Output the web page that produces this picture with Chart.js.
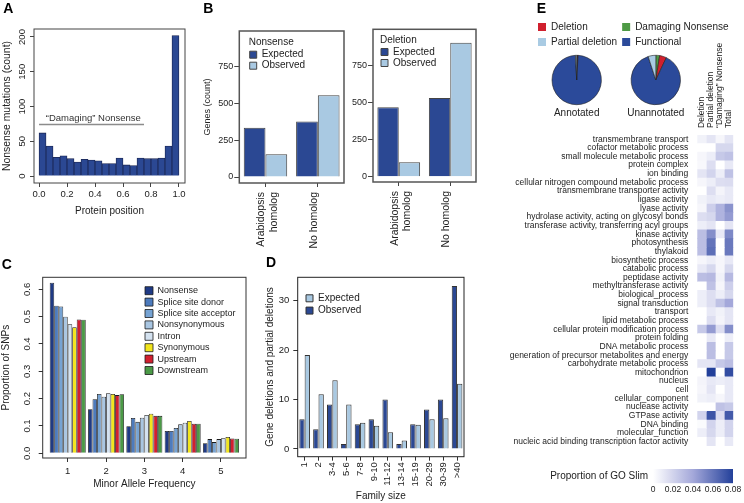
<!DOCTYPE html>
<html><head><meta charset="utf-8">
<script src="https://cdn.jsdelivr.net/npm/chart.js@4.4.1/dist/chart.umd.min.js"></script>
<style>
html,body{margin:0;padding:0;background:#fff;}
body{width:744px;height:503px;position:relative;overflow:hidden;}
canvas{position:absolute;}
</style></head><body>
<script>
// ================= DATA =================
// Panel A: histogram of nonsense mutation positions
const aBinMid = [0.025,0.075,0.125,0.175,0.225,0.275,0.325,0.375,0.425,0.475,0.525,0.575,0.625,0.675,0.725,0.775,0.825,0.875,0.925,0.975];
const aCounts = [62,43,27,29,25,20,24,23,22,18,18,26,16,15,26,25,25,26,43,202];
const aXTicks = [0,0.2,0.4,0.6,0.8,1.0];
const aYTicks = [0,50,100,150,200];
const aDamagingSpan = [0,0.75];
const aDamagingLevel = 74;

// Panel B
const bGroups = [['Arabidopsis','homolog'],'No homolog'];
const bNonsenseExpected = [333,376];
const bNonsenseObserved = [154,553];
const bDeletionExpected = [470,532];
const bDeletionObserved = [97,905];
const bYTicks = [0,250,500,750];

// Panel C
const cMaf = [1,2,3,4,5];
const cSeriesNames = ['Nonsense','Splice site donor','Splice site acceptor','Nonsynonymous','Intron','Synonymous','Upstream','Downstream'];
const cNonsense       = [0.624,0.161,0.099,0.082,0.037];
const cSpliceDonor    = [0.540,0.198,0.129,0.082,0.052];
const cSpliceAcceptor = [0.537,0.217,0.115,0.093,0.041];
const cNonsynonymous  = [0.500,0.207,0.130,0.106,0.052];
const cIntron         = [0.472,0.220,0.140,0.112,0.055];
const cSynonymous     = [0.461,0.217,0.145,0.118,0.060];
const cUpstream       = [0.490,0.213,0.137,0.108,0.054];
const cDownstream     = [0.489,0.216,0.137,0.108,0.053];
const cYTicks = [0,0.1,0.2,0.3,0.4,0.5,0.6];

// Panel D
const dFamily = ['1','2','3-4','5-6','7-8','9-10','11-12','13-14','15-19','20-29','30-39','>40'];
const dObserved = [6,4,9,1,5,6,10,1,5,8,10,33];
const dExpected = [19,11.1,13.9,9,5.3,4.7,3.4,1.7,4.9,6,6.2,13.2];
const dYTicks = [0,10,20,30];

// Panel E: pies
const pieLabels = ['Damaging Nonsense','Deletion','Functional','Partial deletion'];
const pieAnnotated = [0.5,0.4,98.3,0.8];
const pieUnannotated = [2.5,4.5,88,5];
const eLegendOrder = ['Deletion','Partial deletion','Damaging Nonsense','Functional'];

// Panel E: heatmap (proportion of GO Slim)
const goTerms = ['transmembrane transport','cofactor metabolic process','small molecule metabolic process','protein complex','ion binding','cellular nitrogen compound metabolic process','transmembrane transporter activity','ligase activity','lyase activity','hydrolase activity, acting on glycosyl bonds','transferase activity, transferring acyl groups','kinase activity','photosynthesis','thylakoid','biosynthetic process','catabolic process','peptidase activity','methyltransferase activity','biological_process','signal transduction','transport','lipid metabolic process','cellular protein modification process','protein folding','DNA metabolic process','generation of precursor metabolites and energy','carbohydrate metabolic process','mitochondrion','nucleus','cell','cellular_component','nuclease activity','GTPase activity','DNA binding','molecular_function','nucleic acid binding transcription factor activity'];
const goColumns = ['Deletion','Partial deletion','\u201cDamaging\u201d Nonsense','Total'];
const goDeletion = [0.006,0,0.004,0.003,0.012,0.004,0,0.006,0.004,0.015,0.008,0.030,0.030,0.030,0.004,0.010,0.030,0,0.008,0.008,0,0,0.025,0,0,0,0.012,0,0.005,0.004,0.006,0,0.020,0.002,0.008,0];
const goPartial  = [0.012,0,0.008,0.015,0.020,0.008,0.015,0.010,0.022,0.018,0.012,0.050,0.060,0.062,0.008,0.018,0.032,0.028,0.015,0.015,0.010,0.015,0.045,0.010,0.030,0.030,0.012,0.080,0.010,0.012,0.008,0,0.072,0.020,0.018,0.012];
const goDamaging = [0.004,0.018,0.025,0,0.008,0.015,0.005,0.008,0.035,0.035,0,0.010,0,0,0.004,0.004,0.006,0.004,0.008,0.028,0.006,0.005,0.015,0,0,0,0.025,0,0.008,0,0.004,0.028,0.015,0.008,0.008,0];
const goTotal    = [0.012,0.018,0.028,0.010,0.028,0.016,0.010,0.010,0.048,0.045,0.012,0.052,0.058,0.058,0.010,0.018,0.032,0.022,0.018,0.040,0.012,0.012,0.050,0.008,0.025,0.025,0.030,0.075,0.010,0.010,0.010,0.025,0.070,0.020,0.020,0.010];
const goScaleMax = 0.08;
const goScaleTicks = [0,0.02,0.04,0.06,0.08];

// ================= STYLE =================
const FONT = "'Liberation Sans', Arial, Helvetica, sans-serif";
Chart.defaults.font.family = FONT;
Chart.defaults.color = '#222';
Chart.defaults.animation = false;
Chart.defaults.responsive = false;
Chart.defaults.maintainAspectRatio = false;
Chart.defaults.events = [];
Chart.defaults.plugins.legend.display = false;
Chart.defaults.plugins.tooltip.enabled = false;

const DARK = '#2b4893';
const LIGHT = '#a9c9e2';
const cColors = ['#1f3a85','#4d7bbd','#76a3d3','#a9c6e2','#d4e2f0','#f2e51d','#d21f2f','#4b9a47'];
const pieColor = {'Deletion':'#d0202e','Damaging Nonsense':'#4e9a45','Partial deletion':'#a9cbe3','Functional':'#2b4a9a'};

function canvasAt(r){
  const c=document.createElement('canvas');
  c.width=r.w; c.height=r.h;
  c.style.left=r.x+'px'; c.style.top=r.y+'px';
  c.style.width=r.w+'px'; c.style.height=r.h+'px';
  document.body.appendChild(c);
  return c;
}
function padFor(r,a,wl,hb,ht){
  return {left:a.l-r.x-wl, top:a.t-r.y-ht, right:r.x+r.w-a.r, bottom:r.y+r.h-a.b-hb};
}
const boxPlugin=(color,width)=>({id:'box',afterDatasetsDraw(chart){
  const {ctx,chartArea:c}=chart; ctx.save(); ctx.strokeStyle=color; ctx.lineWidth=width;
  ctx.strokeRect(c.left,c.top,c.right-c.left,c.bottom-c.top); ctx.restore();}});
const textPlugin=(items)=>({id:'texts',afterDraw(chart){
  const ctx=chart.ctx;
  items.forEach(it=>{
    let x=it.x,y=it.y;
    if(it.data){x=chart.scales.x.getPixelForValue(it.x); y=chart.scales.y.getPixelForValue(it.y);}
    ctx.save(); ctx.font=it.font; ctx.fillStyle=it.color||'#222';
    ctx.textAlign=it.align||'left'; ctx.textBaseline=it.baseline||'alphabetic';
    ctx.fillText(it.text,x,y); ctx.restore();
  });}});
// vertical legends placed in the chart area start at the canvas top: move them to a given top
const placeLegend=(dx,top)=>({id:'placeLegend',afterLayout(chart){
  const l=chart.legend; if(!l) return; const h=l.bottom-l.top;
  l.left+=dx; l.right+=dx; l.top=top; l.bottom=top+h;}});
const fixTicks=(vals)=>(s)=>{s.ticks=vals.map(v=>({value:v}));};
const LETTER='bold 14px '+FONT;

// ================= PANEL A =================
(function(){
  const r={x:0,y:0,w:192,h:220}, a={l:34,t:29,r:185,b:183};
  const wl=33.5, hb=34;
  new Chart(canvasAt(r),{
    type:'bar',
    data:{datasets:[
      {type:'bar',data:aBinMid.map((x,i)=>({x:x,y:aCounts[i]})),backgroundColor:DARK,borderColor:'#1a2550',borderWidth:0.8,barPercentage:1,categoryPercentage:1},
      {type:'line',data:aDamagingSpan.map(x=>({x:x,y:aDamagingLevel})),borderColor:'#8c8c8c',borderWidth:1.5,pointRadius:0}
    ]},
    options:{
      layout:{padding:padFor(r,a,wl,hb,0)},
      scales:{
        x:{type:'linear',offset:false,min:-0.036,max:1.043,afterBuildTicks:fixTicks(aXTicks),
           ticks:{callback:v=>Number(v).toFixed(1),font:{size:9.5},padding:1.3,maxRotation:0,autoSkip:false},
           grid:{offset:false,drawOnChartArea:false,tickLength:4,color:'#444'},border:{display:false},
           title:{display:true,text:'Protein position',font:{size:10},padding:0},
           afterFit:s=>{s.height=hb;}},
        y:{min:-10,max:211.5,afterBuildTicks:fixTicks(aYTicks),
           ticks:{font:{size:9.5},minRotation:90,maxRotation:90,crossAlign:'center',padding:0},
           grid:{drawOnChartArea:false,tickLength:4,color:'#444'},border:{display:false},
           title:{display:true,text:'Nonsense mutations (count)',font:{size:10.4},padding:0},
           afterFit:s=>{s.width=wl;}}
      }
    },
    plugins:[boxPlugin('#444',1),textPlugin([
      {text:'A',x:3.3,y:13.3,font:LETTER,color:'#000'},
      {text:'\u201cDamaging\u201d Nonsense',x:0.048,y:79.6,data:true,font:'9.5px '+FONT,color:'#333'}
    ])]
  });
})();

// ================= PANEL B =================
function panelB(r,a,wl,yMin,yMax,exp,obs,titleText,showYTitle,legDx,legTop,extraTexts){
  const hb=70;
  new Chart(canvasAt(r),{
    type:'bar',
    data:{labels:bGroups,datasets:[
      {label:'Expected',data:exp,backgroundColor:DARK,borderColor:'#444',borderWidth:1,barPercentage:1,categoryPercentage:0.83},
      {label:'Observed',data:obs,backgroundColor:LIGHT,borderColor:'#444',borderWidth:1,barPercentage:1,categoryPercentage:0.83}
    ]},
    options:{
      layout:{padding:padFor(r,a,wl,hb,0)},
      plugins:{legend:{display:true,position:'chartArea',align:'start',
        title:{display:true,text:titleText,position:'start',font:{size:10,lineHeight:1},padding:{top:0,bottom:1}},
        labels:{boxWidth:7,boxHeight:7,padding:1,font:{size:10},color:'#222'}}},
      scales:{
        x:{type:'category',offset:true,
           ticks:{font:{size:10.5},minRotation:90,maxRotation:90,padding:5,labelOffset:-4,autoSkip:false},
           grid:{offset:false,drawOnChartArea:false,tickLength:4,color:'#444'},border:{display:false},
           afterFit:s=>{s.height=hb;}},
        y:{min:yMin,max:yMax,afterBuildTicks:fixTicks(bYTicks),
           ticks:{font:{size:9},padding:1},
           grid:{drawOnChartArea:false,tickLength:5,color:'#444'},border:{display:false},
           title:{display:showYTitle,text:'Genes (count)',font:{size:9},padding:0},
           afterFit:s=>{s.width=wl;}}
      }
    },
    plugins:[boxPlugin('#555',1.5),placeLegend(legDx,legTop),textPlugin(extraTexts)]
  });
}
panelB({x:196,y:0,w:152,h:256},{l:239.3,t:31,r:344,b:183},37,-40.6,989,
  bNonsenseExpected,bNonsenseObserved,'Nonsense',true,9.4,37.7,
  [{text:'B',x:7.3,y:12.7,font:LETTER,color:'#000'}]);
panelB({x:348,y:0,w:132,h:256},{l:373,t:29.3,r:476,b:182},25,-35.8,996,
  bDeletionExpected,bDeletionObserved,'Deletion',false,7,35,[]);

// ================= PANEL C =================
(function(){
  const r={x:0,y:250,w:250,h:245}, a={l:42.7,t:277.3,r:246,b:458};
  const wl=42.7, hb=32;
  const series=[cNonsense,cSpliceDonor,cSpliceAcceptor,cNonsynonymous,cIntron,cSynonymous,cUpstream,cDownstream];
  new Chart(canvasAt(r),{
    type:'bar',
    data:{datasets:series.map((vals,k)=>({
      label:cSeriesNames[k],data:cMaf.map((m,i)=>({x:m,y:vals[i]})),
      backgroundColor:cColors[k],borderColor:'#1a1a1a',borderWidth:0.8,barPercentage:1,categoryPercentage:0.94}))},
    options:{
      layout:{padding:padFor(r,a,wl,hb,0)},
      plugins:{legend:{display:true,position:'chartArea',align:'start',
        labels:{boxWidth:8,boxHeight:8,padding:2.4,font:{size:9},color:'#222'}}},
      scales:{
        x:{type:'linear',offset:false,min:0.347,max:5.653,afterBuildTicks:fixTicks(cMaf),
           ticks:{font:{size:9.5},padding:4,maxRotation:0,autoSkip:false},
           grid:{offset:false,drawOnChartArea:false,tickLength:4,color:'#333'},border:{display:false},
           title:{display:true,text:'Minor Allele Frequency',font:{size:10},padding:0},
           afterFit:s=>{s.height=hb;}},
        y:{min:-0.0172,max:0.644,afterBuildTicks:fixTicks(cYTicks),
           ticks:{callback:v=>Number(v).toFixed(1),font:{size:9.5},minRotation:90,maxRotation:90,crossAlign:'center',padding:5},
           grid:{drawOnChartArea:false,tickLength:4,color:'#333'},border:{display:false},
           title:{display:true,text:'Proportion of SNPs',font:{size:10},padding:0},
           afterFit:s=>{s.width=wl;}}
      }
    },
    plugins:[boxPlugin('#333',1),placeLegend(99.9,33.8),textPlugin([{text:'C',x:1.7,y:19,font:LETTER,color:'#000'}])]
  });
})();

// ================= PANEL D =================
(function(){
  const r={x:262,y:250,w:212,h:253}, a={l:297.7,t:277.3,r:464,b:456.7};
  const wl=33.7, hb=45.3;
  new Chart(canvasAt(r),{
    type:'bar',
    data:{labels:dFamily,datasets:[
      {label:'Observed',data:dObserved,backgroundColor:DARK,borderColor:'#333',borderWidth:1,barPercentage:1,categoryPercentage:0.77},
      {label:'Expected',data:dExpected,backgroundColor:LIGHT,borderColor:'#333',borderWidth:1,barPercentage:1,categoryPercentage:0.77}
    ]},
    options:{
      layout:{padding:padFor(r,a,wl,hb,0)},
      plugins:{legend:{display:true,position:'chartArea',align:'start',reverse:true,
        labels:{boxWidth:7,boxHeight:7,padding:2.3,font:{size:10},color:'#222'}}},
      scales:{
        x:{type:'category',offset:true,
           ticks:{font:{size:9.5},minRotation:90,maxRotation:90,padding:1.5,autoSkip:false},
           grid:{offset:false,drawOnChartArea:false,tickLength:4,color:'#333'},border:{display:false},
           title:{display:true,text:'Family size',font:{size:10},padding:0},
           afterFit:s=>{s.height=hb;}},
        y:{min:-1.56,max:34.74,afterBuildTicks:fixTicks(dYTicks),
           ticks:{font:{size:9.5},padding:4},
           grid:{drawOnChartArea:false,tickLength:4.4,color:'#333'},border:{display:false},
           title:{display:true,text:'Gene deletions and partial deletions',font:{size:10},padding:0},
           afterFit:s=>{s.width=wl;}}
      }
    },
    plugins:[boxPlugin('#222',1),placeLegend(6,41),textPlugin([{text:'D',x:4,y:16.7,font:LETTER,color:'#000'}])]
  });
})();

// ================= PANEL E: legend + pies =================
new Chart(canvasAt({x:533,y:17,w:211,h:40}),{
  type:'bar',
  data:{labels:[],datasets:eLegendOrder.map(n=>({label:n,data:[],backgroundColor:pieColor[n],borderWidth:0}))},
  options:{
    layout:{padding:0},
    plugins:{legend:{display:true,position:'left',align:'start',maxWidth:400,
      labels:{boxWidth:8,boxHeight:8,padding:5,font:{size:10},color:'#222'}}},
    scales:{x:{display:false},y:{display:false}}
  }
});
function pie(r,pad,vals,title){
  new Chart(canvasAt(r),{
    type:'pie',
    data:{labels:pieLabels,datasets:[{data:vals,backgroundColor:pieLabels.map(n=>pieColor[n]),borderColor:'#222',borderWidth:0.6}]},
    options:{
      layout:{padding:pad},
      plugins:{title:{display:true,text:title,position:'bottom',font:{size:10,weight:'normal'},color:'#222',padding:{top:2,bottom:0}}}
    }
  });
}
pie({x:536,y:52,w:82,h:67},{top:3,left:0,right:0.6,bottom:0},pieAnnotated,'Annotated');
pie({x:615,y:52,w:82,h:67},{top:3,left:0,right:0.4,bottom:0},pieUnannotated,'Unannotated');

// ================= PANEL E: heatmap =================
function goColor(v){
  const t=Math.max(0,Math.min(1,v/goScaleMax));
  const s0=[255,255,255], s1=[164,168,218], s2=[35,64,154];
  let c;
  if(t<0.5){const u=t/0.5; c=s0.map((x,i)=>x+(s1[i]-x)*u);} else {const u=(t-0.5)/0.5; c=s1.map((x,i)=>x+(s2[i]-x)*u);}
  return 'rgb('+c.map(Math.round).join(',')+')';
}
(function(){
  const r={x:480,y:0,w:264,h:460}, a={l:697.3,t:134.9,r:733.3,b:455.1};
  const wl=217.3, ht=104.9;
  const cols=[goDeletion,goPartial,goDamaging,goTotal];
  new Chart(canvasAt(r),{
    type:'bar',
    data:{labels:goTerms,datasets:cols.map((vals,c)=>({
      label:goColumns[c],data:vals.map(()=>[c,c+1]),backgroundColor:vals.map(goColor),
      borderWidth:0,grouped:false,barPercentage:1,categoryPercentage:1}))},
    options:{
      indexAxis:'y',
      layout:{padding:padFor(r,a,wl,0,ht)},
      scales:{
        x:{type:'linear',position:'top',min:0,max:4,afterBuildTicks:fixTicks([0.5,1.5,2.5,3.5]),
           ticks:{callback:(v,i)=>goColumns[i],font:{size:8.5},minRotation:90,maxRotation:90,padding:7,labelOffset:10.2,autoSkip:false},
           grid:{display:false,drawTicks:false},border:{display:false},
           afterFit:s=>{s.height=ht;}},
        y:{type:'category',
           ticks:{font:{size:8.5},padding:9,autoSkip:false},
           grid:{display:false,drawTicks:false},border:{display:false},
           afterFit:s=>{s.width=wl;}}
      }
    },
    plugins:[textPlugin([{text:'E',x:56.7,y:12.7,font:LETTER,color:'#000'}])]
  });
})();

// ================= PANEL E: colour scale =================
(function(){
  const r={x:480,y:458,w:264,h:45}, a={l:653,t:467.7,r:733,b:483.3};
  const wl=173, hb=19.7;
  new Chart(canvasAt(r),{
    type:'bar',
    data:{labels:['Proportion of GO Slim'],datasets:[{
      data:[[0,goScaleMax]],borderWidth:0,barPercentage:1,categoryPercentage:1,
      backgroundColor:(ctx)=>{
        const ca=ctx.chart.chartArea; if(!ca) return DARK;
        const g=ctx.chart.ctx.createLinearGradient(ca.left,0,ca.right,0);
        for(let k=0;k<=10;k++){g.addColorStop(k/10,goColor(goScaleMax*k/10));}
        return g;
      }}]},
    options:{
      indexAxis:'y',
      layout:{padding:padFor(r,a,wl,hb,0)},
      scales:{
        x:{type:'linear',min:0,max:goScaleMax,afterBuildTicks:fixTicks(goScaleTicks),
           ticks:{callback:v=>v===0?'0':Number(v).toFixed(2),font:{size:8.5},padding:1,maxRotation:0,autoSkip:false},
           grid:{display:false,drawTicks:false},border:{display:false},
           afterFit:s=>{s.height=hb;}},
        y:{type:'category',ticks:{font:{size:10},padding:5},
           grid:{display:false,drawTicks:false},border:{display:false},
           afterFit:s=>{s.width=wl;}}
      }
    }
  });
})();
</script>
</body></html>
